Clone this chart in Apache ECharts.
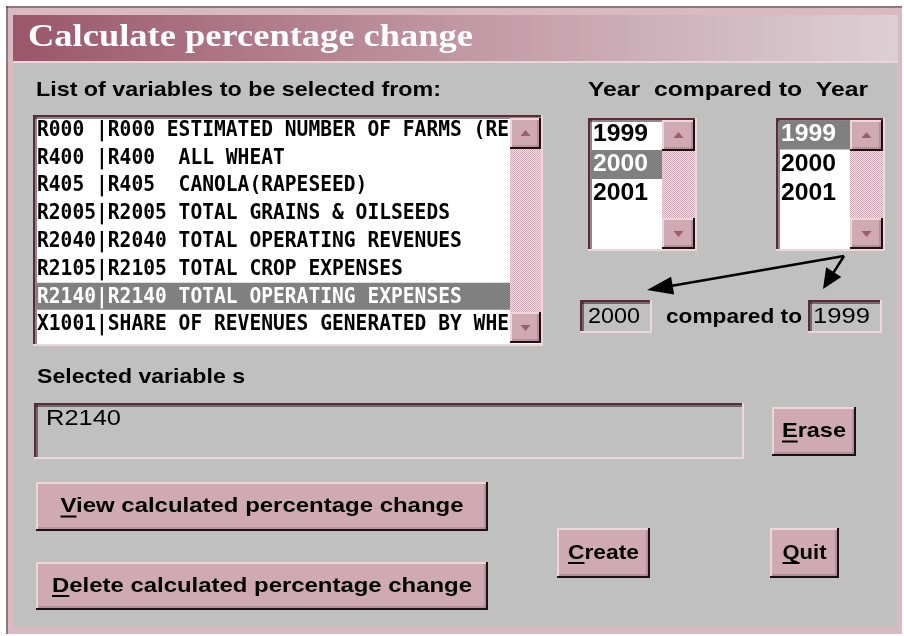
<!DOCTYPE html>
<html>
<head>
<meta charset="utf-8">
<script src="https://cdn.jsdelivr.net/npm/echarts@6/dist/echarts.min.js"></script>
<style>
html,body{margin:0;padding:0;background:#fff}
#main{width:904px;height:636px}
</style>
</head>
<body>
<div id="main"></div>
<script>
// dialog content
var titleText = 'Calculate percentage change';
var listCaption = 'List of variables to be selected from:';
var yearCaption = 'Year  compared to  Year';
var varCodes = ['R000', 'R400', 'R405', 'R2005', 'R2040', 'R2105', 'R2140', 'X1001'];
var varLabels = [
	'R000 ESTIMATED NUMBER OF FARMS (RE',
	'R400  ALL WHEAT',
	'R405  CANOLA(RAPESEED)',
	'R2005 TOTAL GRAINS & OILSEEDS',
	'R2040 TOTAL OPERATING REVENUES',
	'R2105 TOTAL CROP EXPENSES',
	'R2140 TOTAL OPERATING EXPENSES',
	'SHARE OF REVENUES GENERATED BY WHE'
];
var selectedVar = 6;
var years = ['1999', '2000', '2001'];
var fromYear = 1;
var toYear = 0;
var selectedCaption = 'Selected variable s';
var selectedVars = ['R2140'];
var btnLabels = ['Erase', 'View calculated percentage change', 'Delete calculated percentage change', 'Create', 'Quit'];

var GREY = '#c0c0c0', FACE = '#cfaab4', LIGHT = '#ecd5db', DARK = '#1c1014', PINK = '#d9b9c2';
var FONT_B = 'bold 21px "Liberation Sans", Arial, sans-serif';
var FONT_R = '22px "Liberation Sans", Arial, sans-serif';
var FONT_LIST = 'bold 22px "DejaVu Sans Mono", monospace';
var FONT_YEAR = 'bold 23px "Liberation Sans", Arial, sans-serif';

var ctx = document.createElement('canvas').getContext('2d');
function tw(s, font){ ctx.font = font; return ctx.measureText(s).width; }

// checkered scrollbar track
var chk = document.createElement('canvas');
chk.width = 2; chk.height = 2;
var cc = chk.getContext('2d');
cc.fillStyle = '#f2e6ea'; cc.fillRect(0, 0, 2, 2);
cc.fillStyle = '#cfa6b2'; cc.fillRect(0, 0, 1, 1); cc.fillRect(1, 1, 1, 1);

var els = [];
function rect(x, y, w, h, fill){
	els.push({type:'rect', silent:true, shape:{x:x, y:y, width:w, height:h}, style:{fill:fill}});
}
function line(x1, y1, x2, y2, color, lw){
	els.push({type:'line', silent:true, shape:{x1:x1, y1:y1, x2:x2, y2:y2}, style:{stroke:color, lineWidth:lw || 1}});
}
// optional width: stretch text sideways to the width seen in the screenshot
function text(x, y, s, font, fill, align, width){
	var sx = width ? width / tw(s, font) : 1;
	els.push({type:'text', silent:true, x:x, y:y, scaleX:sx,
		style:{text:s, font:font, fill:fill || '#000', textAlign:align || 'left', textVerticalAlign:'middle'}});
	return sx;
}
function poly(pts, fill){
	els.push({type:'polygon', silent:true, shape:{points:pts}, style:{fill:fill}});
}
function arrow(x1, y1, x2, y2, len, half){
	var dx = x2 - x1, dy = y2 - y1, d = Math.sqrt(dx * dx + dy * dy);
	var ux = dx / d, uy = dy / d;
	var bx = x2 - ux * len, by = y2 - uy * len;
	line(x1, y1, bx + ux * 2, by + uy * 2, '#000', 2.5);
	poly([[x2, y2], [bx - uy * half, by + ux * half], [bx + uy * half, by - ux * half]], '#000');
}
// raised look
function raised(x, y, w, h){
	rect(x, y, w, h, FACE);
	line(x, y + 1, x + w, y + 1, LIGHT, 2);
	line(x + 1, y, x + 1, y + h, LIGHT, 2);
	line(x + 2, y + h - 3, x + w - 2, y + h - 3, '#9c7883', 1);
	line(x + w - 3, y + 2, x + w - 3, y + h - 2, '#9c7883', 1);
	line(x, y + h - 1, x + w, y + h - 1, DARK, 2);
	line(x + w - 1, y, x + w - 1, y + h, DARK, 2);
}
// sunken look
function sunken(x, y, w, h, fill){
	rect(x, y, w, h, fill);
	line(x, y + 1, x + w, y + 1, '#5a2a38', 2);
	line(x + 1, y, x + 1, y + h, '#5a2a38', 2);
	line(x + 2, y + 3, x + w - 2, y + 3, DARK, 1);
	line(x + 3, y + 2, x + 3, y + h - 2, DARK, 1);
	line(x, y + h - 1, x + w, y + h - 1, LIGHT, 2);
	line(x + w - 1, y, x + w - 1, y + h, LIGHT, 2);
}
function button(x, y, w, h, label, width){
	raised(x, y, w, h);
	var cx = x + w / 2, cy = y + h / 2;
	var sx = text(cx, cy, label, FONT_B, '#000', 'center', width);
	var x0 = cx - width / 2;
	line(x0, cy + 10, x0 + tw(label[0], FONT_B) * sx, cy + 10, '#000', 2);
}
function scrollbar(x, y, w, h){
	rect(x, y, w, h, {image:chk, repeat:'repeat'});
	raised(x, y, w, 31);
	poly([[x + w / 2 - 5, y + 18], [x + w / 2 + 5, y + 18], [x + w / 2, y + 12]], '#9a5e70');
	raised(x, y + h - 31, w, 31);
	poly([[x + w / 2 - 5, y + h - 18], [x + w / 2 + 5, y + h - 18], [x + w / 2, y + h - 12]], '#9a5e70');
}

// frame + title bar
rect(6, 6, 896, 628, PINK);
line(6, 7, 902, 7, '#3a3a3a', 1);
line(7, 6, 7, 634, '#3a3a3a', 1);
rect(13, 63, 884, 565, GREY);
els.push({type:'rect', silent:true, shape:{x:13, y:15, width:885, height:47},
	style:{fill:new echarts.graphic.LinearGradient(0, 0, 1, 0, [
		{offset:0, color:'#9a566a'}, {offset:0.5, color:'#c197a4'}, {offset:1, color:'#ddd0d5'}])}});
line(13, 62, 898, 62, '#e8d6dc', 2);
text(28, 38, titleText, 'bold 31px "Liberation Serif", "Times New Roman", serif', '#fff', 'left', 445);

text(36, 90, listCaption, FONT_B, '#000', 'left', 405);
text(588, 90, yearCaption, FONT_B, '#000', 'left', 280);

// variable list
sunken(33, 115, 510, 231, '#fff');
var rowH = 27.8, row0 = 130;
rect(36, row0 + selectedVar * rowH - 14, 474, 27, '#808080');
varCodes.forEach(function(c, i){
	var s = (c + '     ').slice(0, 5) + '|' + varLabels[i];
	text(37, row0 + i * rowH, s, FONT_LIST, i === selectedVar ? '#fff' : '#000', 'left', s.length * 11.8);
});
scrollbar(510, 118, 31, 225);

// year lists
function yearList(x, sel){
	sunken(x, 118, 109, 133, '#fff');
	rect(x + 3, 150 + (sel - 1) * 29.5, 71, 29, '#808080');
	years.forEach(function(yv, i){
		text(x + 5, 135 + i * 29.5, yv, FONT_YEAR, i === sel ? '#fff' : '#000', 'left', 55);
	});
	scrollbar(x + 74, 120, 33, 129);
}
yearList(588, fromYear);
yearList(776, toYear);

// arrows
arrow(844, 256, 647, 290, 26, 9);
arrow(844, 256, 823, 289, 20, 9);

// compared edit boxes
sunken(580, 300, 72, 33, GREY);
text(588, 317, years[fromYear], FONT_R, '#000', 'left', 52);
text(666, 317, 'compared to', FONT_B, '#000', 'left', 136);
sunken(808, 300, 74, 33, GREY);
text(813, 317, years[toYear], FONT_R, '#000', 'left', 57);

// selected variables
text(37, 377, selectedCaption, FONT_B, '#000', 'left', 208);
sunken(34, 403, 710, 56, GREY);
selectedVars.forEach(function(v, i){
	text(46, 419 + i * 22, v, FONT_R, '#000', 'left', 75);
});

// buttons
button(772, 407, 84, 49, btnLabels[0], 64);
button(36, 482, 452, 49, btnLabels[1], 403);
button(36, 562, 452, 48, btnLabels[2], 420);
button(557, 528, 93, 50, btnLabels[3], 71);
button(770, 528, 69, 50, btnLabels[4], 44);

var chart = echarts.init(document.getElementById('main'), null, {renderer:'canvas'});
chart.setOption({
	backgroundColor:'#fff',
	animation:false,
	graphic:{elements:els}
});
</script>
</body>
</html>
